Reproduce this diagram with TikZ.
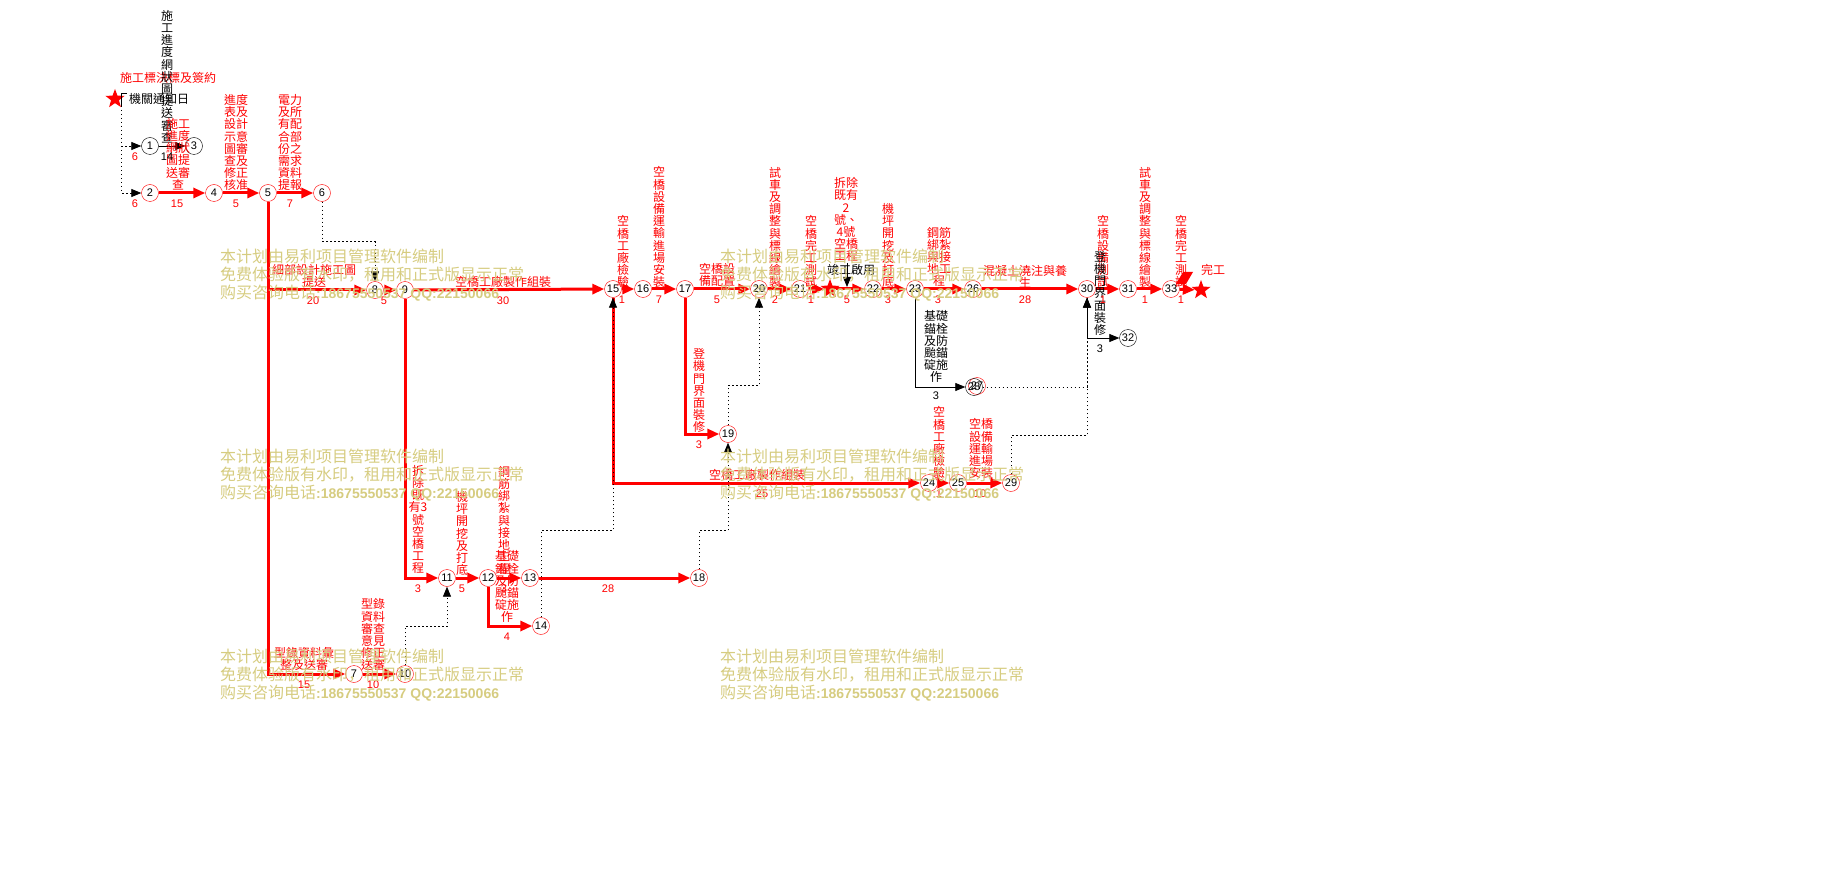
\documentclass[tikz,border=0pt]{standalone}
\usepackage{fontspec}
\setmainfont{Liberation Sans}
\newfontfamily\cjk{Noto Sans CJK TC}
\newfontfamily\wmcjk{Noto Sans CJK SC}
\usepackage{tikz}
\usetikzlibrary{arrows.meta,shapes.geometric}
\definecolor{wmgold}{RGB}{214,204,128}
\tikzset{
  ev/.style={circle,draw=red,fill=white,minimum size=17pt,inner sep=0pt,font=\fontsize{11}{12}\selectfont},
  evb/.style={ev,draw=black},
  ms/.style={star,star points=5,star point ratio=2.4,fill=red,minimum size=20pt,inner sep=0pt},
  crit/.style={draw=red,line width=3pt,-{Triangle[length=12pt,width=10pt]}},
  act/.style={draw=black,line width=0.8pt,-{Triangle[length=10pt,width=8pt]}},
  dummy/.style={act,dash pattern=on 1.5pt off 2.5pt},
  lbl/.style={font=\cjk\fontsize{12}{12.2}\selectfont,text=red,align=center,inner sep=0pt,anchor=south},
  lblb/.style={lbl,text=black},
  dur/.style={font=\fontsize{11}{12}\selectfont,text=red,inner sep=0pt},
  durb/.style={dur,text=black},
  wm/.style={font=\wmcjk\fontsize{16}{18}\selectfont,text=wmgold,align=left,anchor=north west,inner sep=0pt}
}
\newcommand{\wmtext}{本计划由易利项目管理软件编制\\免费体验版有水印，租用和正式版显示正常\\购买咨询电话{\fontspec{Liberation Sans}\fontsize{14}{18}\selectfont\bfseries :18675550537 QQ:22150066}}

\begin{document}
\begin{tikzpicture}[x=1pt,y=-1pt]
    \useasboundingbox (0,0) rectangle (1822,874);

    % events
    \node [ms] (start) at (115,99) {};
    \node [evb] (1) at (150,146) {1};
    \node [evb] (3) at (194,146) {3};
    \node [ev] (2) at (150,193) {2};
    \node [ev] (4) at (214,193) {4};
    \node [ev] (5) at (268,193) {5};
    \node [ev] (6) at (322,193) {6};
    \node [ev] (8) at (375,290) {8};
    \node [ev] (9) at (405,290) {9};
    \node [ev] (15) at (613,289) {15};
    \node [ev] (16) at (643,289) {16};
    \node [ev] (17) at (685,289) {17};
    \node [ev] (20) at (759,289) {20};
    \node [ev] (21) at (800,289) {21};
    \node [ms] (mid) at (830,289) {};
    \node [ev] (22) at (873,289) {22};
    \node [ev] (23) at (915,289) {23};
    \node [ev] (26) at (973,289) {26};
    \node [ev] (30) at (1087,289) {30};
    \node [ev] (31) at (1128,289) {31};
    \node [ev] (33) at (1171,289) {33};
    \node [ms] (fin) at (1201,290) {};
    \node [evb] (32) at (1128,338) {32};
    \node [ev] (27) at (977,386) {27};
    \node [evb,fill=none] (28) at (974,387) {28};
    \node [ev] (19) at (728,434) {19};
    \node [ev] (24) at (929,483) {24};
    \node [ev] (25) at (958,483) {25};
    \node [ev] (29) at (1011,483) {29};
    \node [ev] (11) at (447,578) {11};
    \node [ev] (12) at (488,578) {12};
    \node [ev] (13) at (530,578) {13};
    \node [ev] (18) at (699,578) {18};
    \node [ev] (14) at (541,626) {14};
    \node [ev] (7) at (354,674) {7};
    \node [ev] (10) at (405,674) {10};
    \coordinate (s0) at (121,106);
    \coordinate (m0) at (847,263);
    \coordinate (m1) at (847,287);

    % critical path
    \draw [crit] (2) -- (4);
    \draw [crit] (4) -- (5);
    \draw [crit] (5) -- (6);
    \draw [crit] (5.south) |- (8);
    \draw [crit] (5.south) |- (7);
    \draw [crit] (8) -- (9);
    \draw [crit] (9) -- (15);
    \draw [crit] (9.south) |- (11);
    \draw [crit] (7) -- (10);
    \draw [crit] (11) -- (12);
    \draw [crit] (12) -- (13);
    \draw [crit] (12.south) |- (14);
    \draw [crit] (13) -- (18);
    \draw [crit] (15) -- (16);
    \draw [crit] (16) -- (17);
    \draw [crit] (17) -- (20);
    \draw [crit] (20) -- (21);
    \draw [crit] (21) -- (mid);
    \draw [crit] (mid) -- (22);
    \draw [crit] (22) -- (23);
    \draw [crit] (23) -- (26);
    \draw [crit] (26) -- (30);
    \draw [crit] (30) -- (31);
    \draw [crit] (31) -- (33);
    \draw [crit] (33) -- (fin);
    \draw [crit] (15.south) |- (24);
    \draw [crit] (24) -- (25);
    \draw [crit] (25) -- (29);
    \draw [crit] (17.south) |- (19);
    \fill [red] (1176,284) -- (1183,272) -- (1193,272) -- (1186,284) -- cycle;

    % other activities
    \draw [act] (1) -- (3);
    \draw [act] (23.south) |- (28);
    \draw [act] (30.south) |- (32);
    \draw [act] (m0) -- (m1);
    \draw [black,line width=0.8pt] (s0) |- ++(6,-13);

    % dummies
    \draw [dummy] (s0) |- (1);
    \draw [dummy] (s0) |- (2);
    \draw [dummy] (6.south) -- ++(0,40) -| (8.north);
    \draw [dummy] (10.north) -- ++(0,-39) -| (11.south);
    \draw [dummy] (14.north) -- ++(0,-87) -| (15.south);
    \draw [dummy] (18.north) -- ++(0,-39) -| (19.south);
    \draw [dummy] (19.north) -- ++(0,-40) -| (20.south);
    \draw [dummy] (28.east) -| (30.south);
    \draw [dummy] (29.north) -- ++(0,-39) -| (30.south);

    % milestone texts
    \node [lbl,anchor=center] (t0) at (168,78) {施工標決標及簽約};
    \node [lblb,anchor=west] (t1) at (129,99) {機關通知日};
    \node [lblb,anchor=center] (t2) at (851,270) {竣工啟用};
    \node [lbl,anchor=center] (t3) at (1213,270) {完工};

    % activity labels
    \node [lblb] (l13) at (167,143) {施\\工\\進\\度\\網\\狀\\圖\\提\\送\\審\\查};
    \node [lbl] (l24) at (178,190) {施工\\進度\\網狀\\圖提\\送審\\查};
    \node [lbl] (l45) at (236,191) {進度\\表及\\設計\\示意\\圖審\\查及\\修正\\核准};
    \node [lbl] (l56) at (290,191) {電力\\及所\\有配\\合部\\份之\\需求\\資料\\提報};
    \node [lbl] (l58) at (314,288) {細部設計施工圖\\提送};
    \node [lbl] (l57) at (304,671) {型錄資料彙\\整及送審};
    \node [lbl] (l710) at (373,671) {型錄\\資料\\審查\\意見\\修正\\送審};
    \node [lbl] (l915) at (503,288) {空橋工廠製作組裝};
    \node [lbl] (l911) at (418,574) {拆\\除\\既\\有3\\號\\空\\橋\\工\\程};
    \node [lbl] (l1112) at (462,576) {機\\坪\\開\\挖\\及\\打\\底};
    \node [lbl] (l1213) at (504,575) {鋼\\筋\\綁\\紮\\與\\接\\地\\工\\程};
    \node [lbl] (l1214) at (507,623) {基礎\\錨栓\\及防\\颱錨\\碇施\\作};
    \node [lbl] (l1516) at (623,288) {空\\橋\\工\\廠\\檢\\驗};
    \node [lbl] (l1617) at (659,288) {空\\橋\\設\\備\\運\\輸\\進\\場\\安\\裝};
    \node [lbl] (l1720) at (717,287) {空橋設\\備配置};
    \node [lbl] (l2021) at (775,288) {試\\車\\及\\調\\整\\與\\標\\線\\繪\\製};
    \node [lbl] (l21m) at (811,288) {空\\橋\\完\\工\\測\\試};
    \node [lbl] (lm22) at (846,262) {拆除\\既有\\2\\號、\\4號\\空橋\\工程};
    \node [lbl] (l2223) at (888,288) {機\\坪\\開\\挖\\及\\打\\底};
    \node [lbl] (l2326) at (939,287) {鋼筋\\綁紮\\與接\\地工\\程};
    \node [lbl] (l2630) at (1025,288) {混凝土澆注與養\\生};
    \node [lbl] (l3031) at (1103,288) {空\\橋\\設\\備\\測\\試};
    \node [lblb,anchor=north] (l3032) at (1100,251) {登\\機\\門\\界\\面\\裝\\修};
    \node [lbl] (l3133) at (1145,288) {試\\車\\及\\調\\整\\與\\標\\線\\繪\\製};
    \node [lbl] (l33f) at (1181,288) {空\\橋\\完\\工\\測\\試};
    \node [lblb] (l2328) at (936,383) {基礎\\錨栓\\及防\\颱錨\\碇施\\作};
    \node [lbl] (l1719) at (699,433) {登\\機\\門\\界\\面\\裝\\修};
    \node [lbl] (l1524) at (757,481) {空橋工廠製作組裝};
    \node [lbl] (l2425) at (939,479) {空\\橋\\工\\廠\\檢\\驗};
    \node [lbl] (l2529) at (981,479) {空橋\\設備\\運輸\\進場\\安裝};

    % durations
    \node [dur] (d01) at (135,157) {6};
    \node [dur] (d02) at (135,204) {6};
    \node [durb] (d13) at (167,157) {14};
    \node [dur] (d24) at (177,204) {15};
    \node [dur] (d45) at (236,204) {5};
    \node [dur] (d56) at (290,204) {7};
    \node [dur] (d58) at (313,301) {20};
    \node [dur] (d89) at (384,301) {5};
    \node [dur] (d915) at (503,301) {30};
    \node [dur] (d1516) at (622,300) {1};
    \node [dur] (d1617) at (659,300) {7};
    \node [dur] (d1720) at (717,300) {5};
    \node [dur] (d2021) at (775,300) {2};
    \node [dur] (d21m) at (811,300) {1};
    \node [dur] (dm22) at (847,300) {5};
    \node [dur] (d2223) at (888,300) {3};
    \node [dur] (d2326) at (938,300) {3};
    \node [dur] (d2630) at (1025,300) {28};
    \node [dur] (d3031) at (1103,300) {1};
    \node [dur] (d3133) at (1145,300) {1};
    \node [dur] (d33f) at (1181,300) {1};
    \node [durb] (d3032) at (1100,349) {3};
    \node [durb] (d2328) at (936,396) {3};
    \node [dur] (d1719) at (699,445) {3};
    \node [dur] (d1524) at (762,494) {25};
    \node [dur] (d2425) at (939,494) {1};
    \node [dur] (d2529) at (980,494) {10};
    \node [dur] (d911) at (418,589) {3};
    \node [dur] (d1112) at (462,589) {5};
    \node [dur] (d1213) at (504,589) {3};
    \node [dur] (d1318) at (608,589) {28};
    \node [dur] (d1214) at (507,637) {4};
    \node [dur] (d57) at (304,685) {15};
    \node [dur] (d710) at (373,685) {10};

    % watermark
    \node [wm] (w1) at (220,249) {\wmtext};
    \node [wm] (w2) at (720,249) {\wmtext};
    \node [wm] (w3) at (220,449) {\wmtext};
    \node [wm] (w4) at (720,449) {\wmtext};
    \node [wm] (w5) at (220,649) {\wmtext};
    \node [wm] (w6) at (720,649) {\wmtext};
\end{tikzpicture}
\end{document}
